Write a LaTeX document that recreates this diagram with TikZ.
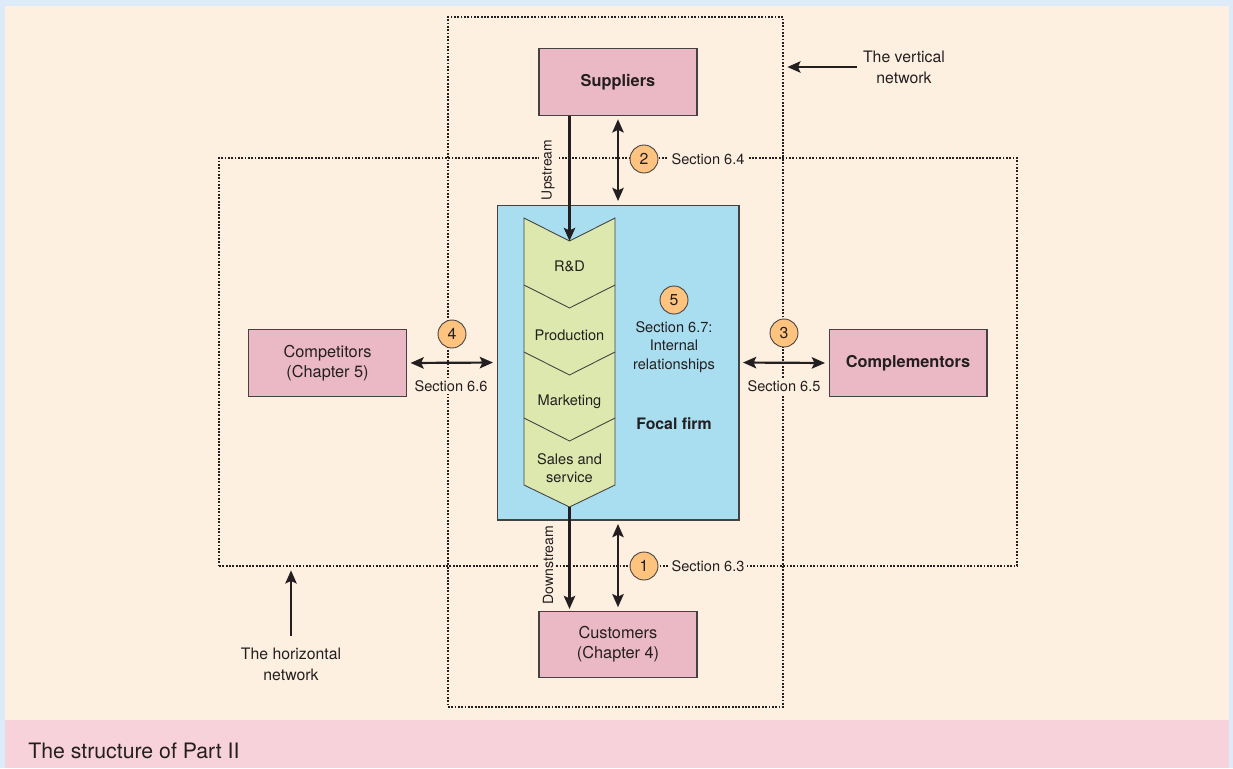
\documentclass[tikz,border=0pt]{standalone}
\usepackage{fontspec}
\setmainfont{TeX Gyre Heros}
\usetikzlibrary{arrows.meta, positioning}
\definecolor{frameBlue}{HTML}{DCEBF7}
\definecolor{paperCream}{HTML}{FEF0E0}
\definecolor{capPink}{HTML}{F8D2DA}
\definecolor{boxPink}{HTML}{EBB9C5}
\definecolor{firmBlue}{HTML}{A8DEF0}
\definecolor{chainGreen}{HTML}{DCE8AD}
\definecolor{numOrange}{HTML}{FDC37F}
\definecolor{ink}{HTML}{231F20}
\colorlet{edge}{ink!85}
\def\boxfont{\fontsize{9.3}{11.3}\selectfont}
\def\secfont{\fontsize{8.3}{10.4}\selectfont}
\tikzset{
    party/.style={draw=edge, fill=boxPink, line width=0.6pt, minimum width=3.16cm, minimum height=1.33cm, align=center, font=\boxfont, text=ink},
    network/.style={draw=ink, line width=1pt, dash pattern=on 1pt off 0.9pt, inner sep=0pt},
    num/.style={circle, draw=edge, fill=numOrange, line width=0.5pt, minimum size=0.56cm, inner sep=0pt, font=\fontsize{9}{10}\selectfont, text=ink},
    sec/.style={fill=paperCream, inner sep=1.5pt, font=\secfont, text=ink, align=center},
    link/.style={draw=ink, line width=1.25pt, -{Stealth[length=7.5pt, width=6.5pt, inset=1.5pt]}},
    twoway/.style={link, {Stealth[length=7.5pt, width=6.5pt, inset=1.5pt]}-{Stealth[length=7.5pt, width=6.5pt, inset=1.5pt]}, shorten <=2pt, shorten >=2pt},
    stage/.style={font=\secfont, text=ink, align=center}
}
\begin{document}
\begin{tikzpicture}[x=0.02cm, y=-0.02cm]
    \useasboundingbox (0,0) rectangle (1233,768);
    % Draw the page and the caption strip
    \fill[frameBlue] (0,0) rectangle (1233,768);
    \fill[paperCream] (5,6) rectangle (1229,720);
    \fill[capPink] (5,720) rectangle (1229,768);
    \node[anchor=base west, inner sep=0pt, font=\fontsize{12.1}{14}\selectfont, text=ink] (caption) at (28,758) {The structure of Part II};

    % Draw the two networks
    \node[network, minimum width=6.7cm, minimum height=13.8cm] (vnet) at (615.5,362) {};
    \node[network, minimum width=15.96cm, minimum height=8.16cm] (hnet) at (618,362) {};

    % Draw the focal firm and its value chain
    \node[draw=edge, fill=firmBlue, line width=0.6pt, minimum width=4.84cm, minimum height=6.3cm] (firm) at (618,362.5) {};
    \coordinate (notch) at (569.5,241);
    \coordinate (tip) at (569.5,507);
    \draw[edge, fill=chainGreen, line width=0.5pt] (524,218) -- (notch) -- (615,218) -- (615,485) -- (tip) -- (524,485) -- cycle;
    \foreach \y in {285,352,418}
        \draw[edge, line width=0.5pt] (524,\y) -- (569.5,\y+23) -- (615,\y);
    \node[stage] (rd) at (569.5,266) {R\&D};
    \node[stage] (prod) at (569.5,335) {Production};
    \node[stage] (mkt) at (569.5,402) {Marketing};
    \node[stage] (sales) at (569.5,468) {Sales and\\service};
    \node[num] (n5) at (674,300) {5};
    \node[stage] (internal) at (674,347) {Section 6.7:\\Internal\\relationships};
    \node[font=\fontsize{9}{11}\selectfont\bfseries, text=ink] (focal) at (674,424) {Focal firm};

    % Draw the other parties
    \node[party, font=\boxfont\bfseries] (suppliers) at (618,82) {Suppliers};
    \node[party] (customers) at (618,644.5) {Customers\\(Chapter 4)};
    \node[party] (competitors) at (327.5,363) {Competitors\\(Chapter 5)};
    \node[party, font=\boxfont\bfseries] (complementors) at (908,363) {Complementors};

    % Vertical links
    \node[sec, rotate=90, font=\fontsize{7.9}{9}\selectfont] (up) at (548,170) {Upstream};
    \draw[link] (suppliers.south -| notch) -- (notch);
    \draw[twoway] (suppliers.south) -- (firm.north);
    \node[num] (n2) at (644,159) {2};
    \node[sec] (sec64) at (708,159) {Section 6.4};
    \node[sec, rotate=90, font=\fontsize{8}{9}\selectfont] (down) at (548,565) {Downstream};
    \draw[link, shorten >=1pt] (tip) -- (customers.north -| tip);
    \draw[twoway] (firm.south) -- (customers.north);
    \node[num] (n1) at (644,566) {1};
    \node[sec] (sec63) at (708,566) {Section 6.3};

    % Horizontal links
    \draw[twoway] (competitors.east) -- (firm.west);
    \node[num] (n4) at (452,334) {4};
    \node[sec] (sec66) at (451,386) {Section 6.6};
    \draw[twoway] (firm.east) -- (complementors.west);
    \node[num] (n3) at (784,333) {3};
    \node[sec] (sec65) at (784,386) {Section 6.5};

    % Network labels
    \node[stage, font=\fontsize{9}{11.9}\selectfont] (vlab) at (904,67) {The vertical\\network};
    \draw[link, shorten >=2pt] (vlab.west) -- (vnet.east |- vlab.west);
    \node[stage, font=\fontsize{9}{11.9}\selectfont] (hlab) at (291,664) {The horizontal\\network};
    \draw[link, shorten <=3pt, shorten >=2pt] (hlab.north) -- (hlab.north |- hnet.south);
\end{tikzpicture}
\end{document}
